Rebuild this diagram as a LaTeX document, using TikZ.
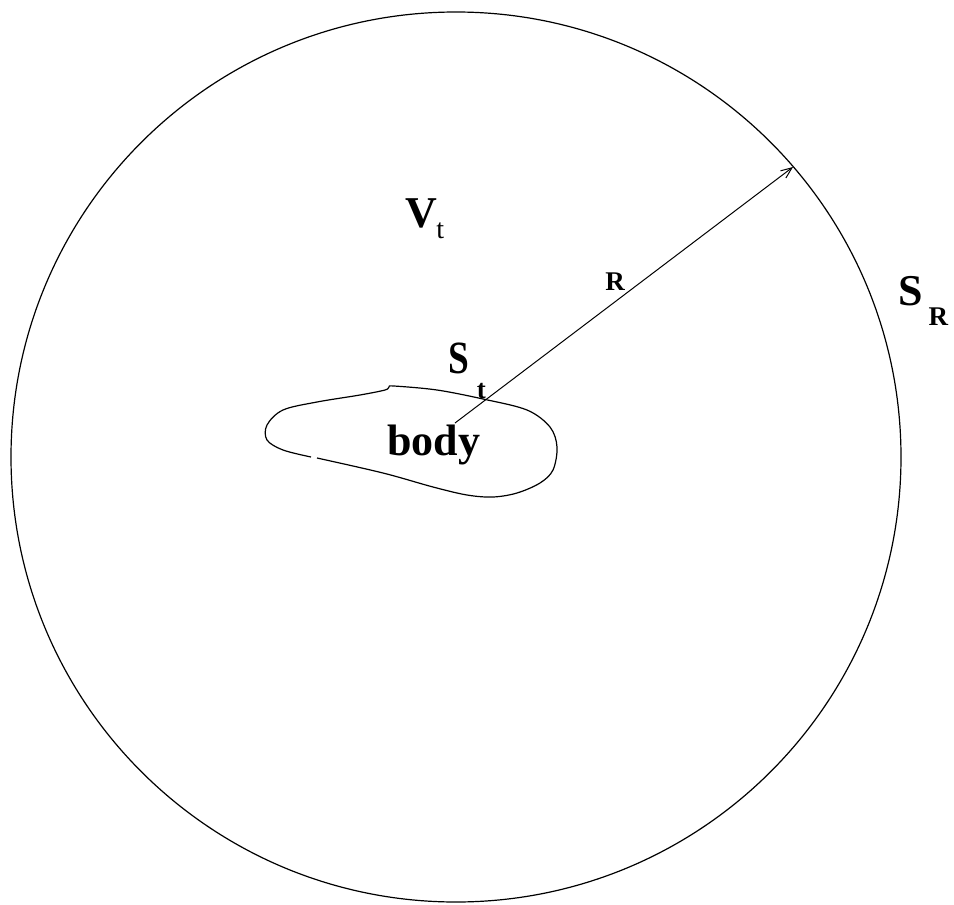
\documentclass[tikz,border=0pt]{standalone}
\usepackage{fontspec}
\setmainfont{Liberation Serif}
\usetikzlibrary{arrows.meta}
\begin{document}
\begin{tikzpicture}[x=1pt,y=-1pt,
  lbl/.style={inner sep=0pt, font=\bfseries\fontsize{44}{44}\selectfont},
  sub/.style={inner sep=0pt, font=\bfseries\fontsize{27}{27}\selectfont},
  subreg/.style={inner sep=0pt, font=\fontsize{28}{28}\selectfont},
  outline/.style={line width=1.2pt}]
\useasboundingbox (0,0) rectangle (954,905);
% outer sphere
\node[outline, draw, circle, minimum size=890pt, inner sep=0pt] (sphere) at (456,457) {};
% body contour
\draw[outline] plot[smooth, tension=0.55] coordinates {
 (317,458) (383,473) (433,487) (467,495) (493,497) (517,493) (540,483)
 (553,470) (557,447) (550,427) (527,410) (483,399) (437,390) (394,386)
 (389,387) (385,390) (360,395) (317,402) (283,410) (267,425) (267,440)
 (283,450) (311,457)};
% radius arrow
\coordinate (orig) at (455,423);
\coordinate (tip) at (793,167);
\draw[line width=1pt, -{Straight Barb[length=11pt,width=9pt]}] (orig) -- (tip);
% labels
\node[lbl, anchor=base] (Vt) at (421,227) {V};
\node[subreg, anchor=base west] (Vtsub) at (Vt.base east) [xshift=-1pt, yshift=-11pt] {t};
\node[lbl, anchor=base] (St) at (459,373) {\scalebox{0.85}[1.05]{S}};
\node[sub, anchor=base west] (Stsub) at (St.base east) [xshift=7pt, yshift=-25pt] {t};
\node[lbl, anchor=base] (SR) at (911,305) {S};
\node[sub, anchor=base west] (SRsub) at (SR.base east) [xshift=5pt, yshift=-20pt] {R};
\node[lbl, anchor=base] (bodylbl) at (434,455) {body};
\node[sub, anchor=base] (Rlbl) at (615,290) {R};
\end{tikzpicture}
\end{document}
